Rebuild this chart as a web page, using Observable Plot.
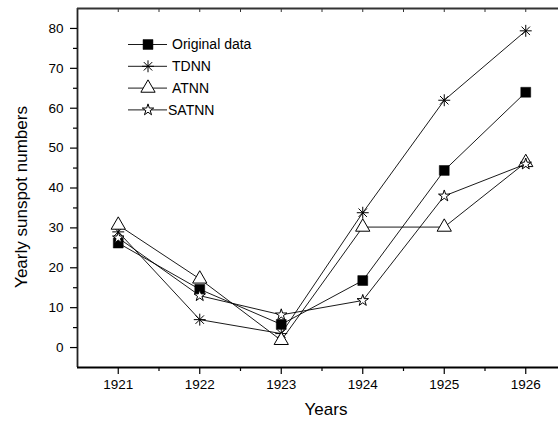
<!DOCTYPE html>
<html>
<head>
<meta charset="utf-8">
<script src="https://cdn.jsdelivr.net/npm/d3@7"></script>
<script src="https://cdn.jsdelivr.net/npm/@observablehq/plot@0.6"></script>
<style>
  body { margin: 0; background: #fff; }
  #chart svg { display: block; }
</style>
</head>
<body>
<div id="chart"></div>
<script>
// Yearly sunspot numbers, 1921–1926: observed values and three network forecasts
const years = [1921, 1922, 1923, 1924, 1925, 1926];
const originalData = [26.2, 14.6, 5.8, 16.8, 44.4, 64.0];
const tdnn = [29.0, 7.0, 3.5, 33.8, 62.0, 79.4];
const atnn = [30.7, 17.2, 1.8, 30.2, 30.2, 46.4];
const satnn = [27.5, 13.0, 8.2, 11.8, 38.0, 46.0];

const seriesNames = ["Original data", "TDNN", "ATNN", "SATNN"];
const seriesValues = [originalData, tdnn, atnn, satnn];

// Axis ticks
const xMajorTicks = [1921, 1922, 1923, 1924, 1925, 1926];
const xMinorTicks = [1921.5, 1922.5, 1923.5, 1924.5, 1925.5];
const xTopTicks = [1921, 1921.5, 1922, 1922.5, 1923, 1923.5, 1924, 1924.5, 1925, 1925.5, 1926, 1926.5];
const yMajorTicks = [0, 10, 20, 30, 40, 50, 60, 70, 80];
const yMinorTicks = [5, 15, 25, 35, 45, 55, 65, 75];
const xTitle = "Years";
const yTitle = "Yearly sunspot numbers";

// Eight-armed asterisk (a "+" over an "×")
const asterisk8 = {
  draw(context, size) {
    const r = Math.sqrt(size) * 0.58;
    const d = r * Math.SQRT1_2;
    context.moveTo(0, -r); context.lineTo(0, r);
    context.moveTo(-r, 0); context.lineTo(r, 0);
    context.moveTo(-d, -d); context.lineTo(d, d);
    context.moveTo(-d, d); context.lineTo(d, -d);
  }
};

// Marker style for each series
const styles = [
  {symbol: d3.symbolSquare,   r: 5.6, fill: "black", stroke: "black", strokeWidth: 0.5},
  {symbol: asterisk8,         r: 5.8, fill: "none",  stroke: "black", strokeWidth: 1},
  {symbol: d3.symbolTriangle, r: 5.3, fill: "white", stroke: "black", strokeWidth: 1},
  {symbol: d3.symbolStar,     r: 3.6, fill: "white", stroke: "black", strokeWidth: 1}
];

const rows = seriesNames.map((name, i) =>
  years.map((year, j) => ({series: name, year, value: seriesValues[i][j]}))
);

const font = "'Liberation Sans', Arial, sans-serif";
const frameColor = "#222";

const seriesMarks = rows.flatMap((data, i) => [
  Plot.line(data, {x: "year", y: "value", stroke: "black", strokeWidth: 0.9}),
  Plot.dot(data, {x: "year", y: "value", ...styles[i]})
]);

const chart = Plot.plot({
  width: 558,
  height: 422,
  marginLeft: 77,
  marginRight: -8,
  marginTop: 8,
  marginBottom: 55,
  style: {fontFamily: font, fontSize: "13.5px", color: "black", background: "white", overflow: "visible"},
  x: {domain: [1920.5, 1926.5], axis: null},
  y: {domain: [-5, 85], axis: null},
  marks: [
    // frame lines (left, top, bottom)
    Plot.ruleX([1920.5], {stroke: frameColor, strokeWidth: 1.8}),
    Plot.ruleY([85], {stroke: "#333", strokeWidth: 2}),
    Plot.ruleY([-5], {stroke: "black", strokeWidth: 1.8}),
    // bottom axis
    Plot.axisX(xMajorTicks, {anchor: "bottom", tickSize: 7, tickPadding: 5, tickFormat: d => String(d), label: null, strokeWidth: 1.2}),
    Plot.axisX(xMinorTicks, {anchor: "bottom", tickSize: 4, tickFormat: () => "", label: null, strokeWidth: 1.2}),
    // top edge ticks, pointing inward
    Plot.axisX(xTopTicks, {anchor: "top", tickSize: 3, dy: 3, tickFormat: () => "", label: null, stroke: "#333", strokeWidth: 1}),
    // left axis
    Plot.axisY(yMajorTicks, {anchor: "left", tickSize: 7, tickPadding: 7, label: null, strokeWidth: 1.2}),
    Plot.axisY(yMinorTicks, {anchor: "left", tickSize: 4, tickFormat: () => "", label: null, strokeWidth: 1.2}),
    ...seriesMarks
  ]
});

document.getElementById("chart").appendChild(chart);

const svg = d3.select(chart);

// Tick labels
svg.selectAll("g").filter(function() { return this.querySelector(":scope > text"); })
  .attr("font-size", "13.5px");
svg.selectAll("text").style("font-size", "13.5px").style("font-family", font);

// Axis titles
svg.append("text")
  .attr("x", 326).attr("y", 409)
  .attr("text-anchor", "middle").attr("dy", "0.35em")
  .style("font-family", font).style("font-size", "17px").attr("fill", "black")
  .text(xTitle);

svg.append("text")
  .attr("transform", "translate(21,197) rotate(-90)")
  .attr("text-anchor", "middle").attr("dy", "0.35em")
  .style("font-family", font).style("font-size", "17px").attr("fill", "black")
  .text(yTitle);

// Legend
const legend = svg.append("g").attr("text-anchor", "start");
seriesNames.forEach((name, i) => {
  const y = 44.5 + i * 21.8;
  const s = styles[i];
  const g = legend.append("g").attr("transform", `translate(0,${y})`);
  g.append("line").attr("x1", 128).attr("x2", 167).attr("y1", 0).attr("y2", 0)
    .attr("stroke", "black").attr("stroke-width", 0.9);
  g.append("path")
    .attr("transform", "translate(148,0)")
    .attr("d", d3.symbol(s.symbol, Math.PI * s.r * s.r)())
    .attr("fill", s.fill).attr("stroke", s.stroke).attr("stroke-width", s.strokeWidth);
  g.append("text").attr("x", i === 3 ? 168 : 172).attr("y", 0).attr("dy", "0.35em")
    .attr("text-anchor", "start").attr("fill", "black")
    .style("font-family", font).style("font-size", "14px")
    .text(name);
});
</script>
</body>
</html>
